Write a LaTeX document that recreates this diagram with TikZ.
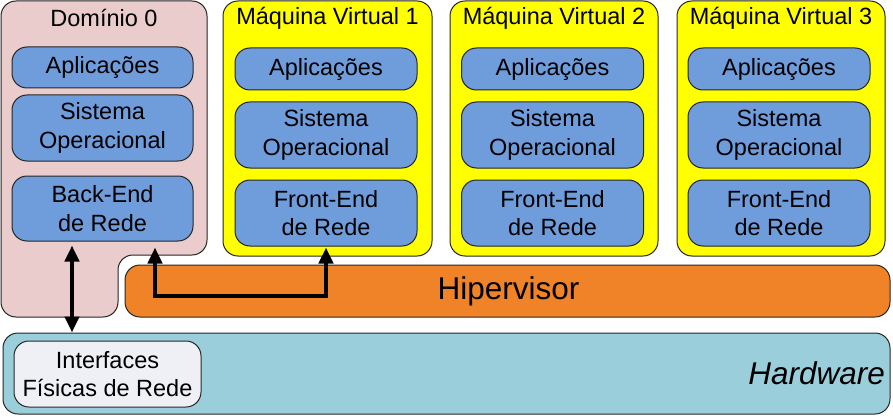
\documentclass[tikz,border=0pt]{standalone}
\usepackage{fontspec}
\setmainfont{Liberation Sans}
\usetikzlibrary{arrows.meta}

\definecolor{dompink}{RGB}{234,204,204}
\definecolor{vmyellow}{RGB}{255,255,0}
\definecolor{layerblue}{RGB}{111,157,220}
\definecolor{hyporange}{RGB}{240,130,40}
\definecolor{hwcyan}{RGB}{155,206,219}
\definecolor{nicgray}{RGB}{238,240,245}

\begin{document}
\begin{tikzpicture}[x=1pt, y=-1pt,
  outline/.style={draw=black!85, line width=1pt, rounded corners=15pt},
  layer/.style={outline, fill=layerblue, minimum width=182pt, inner sep=0pt, align=center,
    font=\fontsize{23.5}{28.5}\selectfont},
  title/.style={inner sep=0pt, font=\fontsize{23.5}{28.5}\selectfont},
  big/.style={inner sep=0pt, font=\fontsize{31.5}{36}\selectfont},
  link/.style={line width=4pt, >={Triangle[length=16pt,width=14pt]}, <->}]

\useasboundingbox (0,0) rectangle (893,417);

\draw[outline, fill=dompink] (1,1) -- (207,1) -- (207,255) -- (118,255) -- (118,317) -- (1,317) -- cycle;
\node[title] (dom0) at (104,18) {Domínio 0};
\node[layer, minimum width=181pt, minimum height=41pt] (app0) at (102.5,67.5) {Aplicações};
\node[layer, minimum width=181pt, minimum height=66pt] (so0) at (102.5,128) {Sistema\\Operacional};
\node[layer, minimum width=181pt, minimum height=65pt] (be) at (102.5,208.5) {Back-End\\de Rede};

\node[outline, fill=vmyellow, minimum width=209pt, minimum height=255pt] (vm1) at (327.5,128.5) {};
\node[title] at (327.5,18) {Máquina Virtual 1};
\node[layer, minimum height=42pt] (app1) at (326,69) {Aplicações};
\node[layer, minimum height=66pt] (so1) at (326,135) {Sistema\\Operacional};
\node[layer, minimum height=66pt] (fe1) at (326,213) {Front-End\\de Rede};

\node[outline, fill=vmyellow, minimum width=208pt, minimum height=255pt] (vm2) at (554,128.5) {};
\node[title] at (554,18) {Máquina Virtual 2};
\node[layer, minimum height=42pt] (app2) at (552.5,69) {Aplicações};
\node[layer, minimum height=66pt] (so2) at (552.5,135) {Sistema\\Operacional};
\node[layer, minimum height=66pt] (fe2) at (552.5,213) {Front-End\\de Rede};

\node[outline, fill=vmyellow, minimum width=208pt, minimum height=255pt] (vm3) at (781,128.5) {};
\node[title] at (781,18) {Máquina Virtual 3};
\node[layer, minimum height=42pt] (app3) at (779,69) {Aplicações};
\node[layer, minimum height=66pt] (so3) at (779,135) {Sistema\\Operacional};
\node[layer, minimum height=66pt] (fe3) at (779,213) {Front-End\\de Rede};

\node[outline, fill=hyporange, minimum width=765pt, minimum height=52pt] (hyp) at (507.5,291) {};
\node[big] at (508.5,291) {Hipervisor};

\node[outline, fill=hwcyan, minimum width=887pt, minimum height=81pt] (hw) at (446.5,373.5) {};
\node[big, anchor=east] at (885,373.5) {\itshape Hardware};
\node[outline, fill=nicgray, minimum width=187pt, minimum height=66pt, align=center, inner sep=0pt,
  font=\fontsize{23.5}{28.5}\selectfont] (nic) at (107.5,374) {Interfaces\\Físicas de Rede};

\coordinate (via) at (326,296);
\draw[link, shorten <=4pt] ([xshift=-30.5pt]be.south) -- ([xshift=-30.5pt]be.south |- hw.north);
\draw[link, shorten <=6pt, shorten >=1pt] ([xshift=52.5pt]be.south) |- (via) -- (fe1.south);

\end{tikzpicture}
\end{document}
